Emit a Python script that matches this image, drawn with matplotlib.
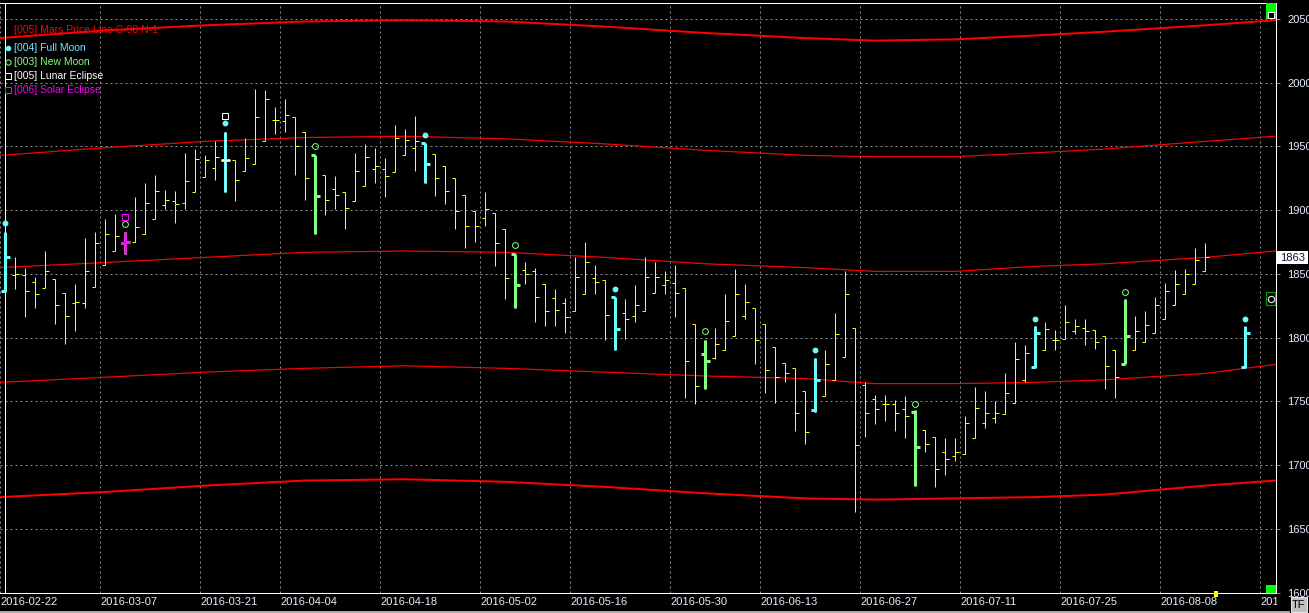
import matplotlib
matplotlib.use("Agg")
import matplotlib.pyplot as plt
import numpy as np
from matplotlib.patches import Rectangle
from matplotlib.lines import Line2D
from matplotlib.transforms import Bbox, blended_transform_factory

plt.rcParams['font.family'] = ['Liberation Sans', 'DejaVu Sans']

# =========================================================
# DATA (daily OHLC, bar index 0 = 2016-02-22)
# =========================================================

opens = [1837, 1849, 1849, 1844, 1839, 1846, 1835, 1827, 1827, 1840,
         1857, 1868, 1874, 1875, 1881, 1893, 1904, 1907, 1906, 1914,
         1926, 1933, 1939, 1939, 1931, 1936, 1954, 1971, 1970, 1973,
         1961, 1943, 1928, 1917, 1914, 1907, 1919, 1932, 1932, 1930,
         1943, 1949, 1953, 1944, 1935, 1925, 1912, 1899, 1894, 1898,
         1885, 1866, 1853, 1852, 1842, 1831, 1827, 1821, 1834, 1847,
         1845, 1832, 1819, 1817, 1821, 1835, 1841, 1843, 1839, 1811,
         1787, 1784, 1790, 1801, 1817, 1823, 1811, 1793, 1780, 1776,
         1758, 1743, 1754, 1767, 1785, 1808, 1763, 1752, 1748, 1748,
         1744, 1742, 1728, 1722, 1710, 1707, 1709, 1721, 1733, 1737,
         1740, 1749, 1767, 1777, 1790, 1798, 1799, 1805, 1808, 1806,
         1801, 1790, 1779, 1790, 1797, 1804, 1815, 1826, 1834, 1842,
         1852]

highs = [1883, 1863, 1855, 1848, 1868, 1846, 1835, 1842, 1878, 1883,
         1893, 1897, 1883, 1910, 1921, 1928, 1916, 1915, 1945, 1948,
         1943, 1954, 1961, 1939, 1957, 1995, 1994, 1981, 1987, 1973,
         1961, 1943, 1928, 1927, 1914, 1945, 1952, 1949, 1941, 1967,
         1964, 1974, 1953, 1944, 1935, 1925, 1912, 1899, 1914, 1898,
         1885, 1866, 1859, 1855, 1842, 1838, 1831, 1863, 1875, 1857,
         1845, 1832, 1830, 1841, 1863, 1859, 1852, 1857, 1839, 1811,
         1798, 1808, 1834, 1854, 1842, 1823, 1811, 1793, 1780, 1776,
         1758, 1784, 1790, 1819, 1852, 1808, 1765, 1755, 1755, 1751,
         1754, 1743, 1728, 1722, 1721, 1721, 1739, 1761, 1758, 1750,
         1772, 1797, 1794, 1809, 1812, 1806, 1826, 1815, 1815, 1806,
         1801, 1790, 1830, 1817, 1821, 1832, 1843, 1853, 1854, 1870,
         1874]

lows = [1836, 1838, 1816, 1823, 1839, 1811, 1795, 1805, 1823, 1840,
        1857, 1868, 1866, 1875, 1881, 1893, 1901, 1890, 1901, 1914,
        1926, 1924, 1914, 1907, 1931, 1936, 1954, 1960, 1961, 1928,
        1908, 1881, 1896, 1901, 1885, 1907, 1919, 1921, 1910, 1930,
        1943, 1931, 1921, 1911, 1905, 1885, 1870, 1875, 1888, 1856,
        1830, 1823, 1842, 1812, 1809, 1809, 1804, 1821, 1834, 1834,
        1798, 1790, 1799, 1812, 1821, 1835, 1834, 1816, 1753, 1748,
        1760, 1783, 1790, 1801, 1815, 1779, 1757, 1749, 1765, 1727,
        1717, 1742, 1754, 1767, 1785, 1663, 1722, 1732, 1735, 1727,
        1721, 1684, 1710, 1683, 1692, 1703, 1709, 1721, 1729, 1733,
        1740, 1749, 1765, 1776, 1790, 1790, 1799, 1803, 1794, 1791,
        1760, 1753, 1779, 1790, 1797, 1804, 1815, 1826, 1834, 1842,
        1852]

closes = [1863, 1850, 1837, 1834, 1852, 1826, 1817, 1828, 1852, 1874,
          1881, 1880, 1875, 1887, 1906, 1915, 1908, 1905, 1923, 1940,
          1939, 1942, 1939, 1924, 1941, 1973, 1987, 1971, 1975, 1950,
          1925, 1911, 1908, 1912, 1902, 1931, 1942, 1935, 1927, 1957,
          1955, 1954, 1936, 1925, 1915, 1899, 1888, 1888, 1901, 1874,
          1847, 1841, 1850, 1832, 1821, 1822, 1816, 1848, 1859, 1844,
          1818, 1807, 1815, 1826, 1848, 1848, 1845, 1835, 1782, 1762,
          1782, 1795, 1813, 1834, 1828, 1798, 1775, 1769, 1772, 1741,
          1726, 1767, 1779, 1803, 1834, 1716, 1741, 1744, 1748, 1741,
          1739, 1714, 1717, 1697, 1705, 1710, 1733, 1745, 1741, 1741,
          1757, 1783, 1788, 1804, 1807, 1798, 1812, 1809, 1805, 1797,
          1778, 1769, 1801, 1805, 1810, 1826, 1837, 1842, 1850, 1861,
          1863]

# projected full-moon bar (2016-08-18, beyond the last price bar)
future_idx = 124
future_ohlc = (1777, 1809, 1776, 1804)

full_moon_idx = [0, 22, 42, 61, 81, 103, 124]
full_moon_mark = [1890, 1968, 1959, 1838, 1790, 1815, 1815]
new_moon_idx = [12, 31, 51, 70, 91, 112]
new_moon_mark = [1889, 1950, 1873, 1805, 1748, 1836]
lunar_ecl_idx = [22]
lunar_ecl_mark = [1974]
solar_ecl_idx = [12]
solar_ecl_mark = [1895]

# Mars price lines (C-90 N-1), sampled along the bar index axis
mars_x = [-0.5, 10, 20, 30, 40, 50, 60, 70, 80, 87, 95, 103, 110, 120, 127]
mars_a = [2035, 2041, 2045, 2048, 2049, 2048, 2044, 2039, 2035, 2033, 2034, 2037, 2040, 2045, 2049]
mars_b = [1943, 1949, 1954, 1957, 1958, 1956, 1952, 1947, 1943, 1942, 1942, 1945, 1948, 1954, 1958]
mars_c = [1855, 1859, 1863, 1867, 1868, 1867, 1863, 1858, 1855, 1852, 1852, 1856, 1858, 1863, 1868]
mars_d = [1765, 1769, 1773, 1776, 1778, 1776, 1773, 1770, 1768, 1764, 1764, 1765, 1767, 1772, 1779]
mars_e = [1675, 1679, 1684, 1688, 1689, 1687, 1683, 1678, 1674, 1673, 1674, 1675, 1677, 1684, 1688]

tick_idx = [0, 10, 20, 28, 38, 48, 57, 67, 76, 86, 96, 106, 116, 126]
tick_dates = ['2016-02-22', '2016-03-07', '2016-03-21', '2016-04-04', '2016-04-18',
              '2016-05-02', '2016-05-16', '2016-05-30', '2016-06-13', '2016-06-27',
              '2016-07-11', '2016-07-25', '2016-08-08', '2016-08-22']
price_levels = [1600, 1650, 1700, 1750, 1800, 1850, 1900, 1950, 2000, 2050]
last_price = 1863

# =========================================================
# STYLE
# =========================================================

W, H = 1309, 613
PX = 0.72            # one pixel in points at 100 dpi
YELLOW = '#ffff00'
CYAN = '#66ffff'
GREEN = '#80ff80'
MAGENTA = '#ff00ff'
RED = '#ff0000'
GRID = '#8c8c8c'
LABEL = '#e4eeff'

fig = plt.figure(figsize=(W / 100, H / 100), dpi=100, facecolor='black')
ax = fig.add_axes([0, 20 / H, 1275.5 / W, 590 / H], facecolor='black')


def fx(px):
    return px / W


def fy(py):
    return 1 - py / H


# grid
for lvl in price_levels:
    ax.axhline(lvl, color=GRID, lw=PX, linestyle=(0, (2, 3)), zorder=0)
for t in tick_idx:
    ax.axvline(t - 0.5, color=GRID, lw=PX, linestyle=(0, (2, 3)), zorder=0)

# Mars price lines
ax.plot(mars_x, mars_a, color=RED, lw=2 * PX, zorder=2)
ax.plot(mars_x, mars_b, color=RED, lw=1.2 * PX, zorder=2)
ax.plot(mars_x, mars_c, color=RED, lw=1.2 * PX, zorder=2)
ax.plot(mars_x, mars_d, color=RED, lw=1.2 * PX, zorder=2)
ax.plot(mars_x, mars_e, color=RED, lw=2 * PX, zorder=2)

# OHLC bars
x = np.arange(len(opens))
ax.vlines(x, lows, highs, color=YELLOW, lw=PX, zorder=3)
ax.hlines(opens, x - 0.35, x, color=YELLOW, lw=PX, zorder=3)
ax.hlines(closes, x, x + 0.35, color=YELLOW, lw=PX, zorder=3)


def ohlc_at(i):
    if i < len(opens):
        return opens[i], highs[i], lows[i], closes[i]
    return future_ohlc


def moon_bar(i, color, lw, z):
    o, h, l, c = ohlc_at(i)
    ax.vlines(i, l, h, color=color, lw=lw, zorder=z)
    ax.hlines(o, i - 0.45, i, color=color, lw=lw, zorder=z)
    ax.hlines(c, i, i + 0.45, color=color, lw=lw, zorder=z)


for i in full_moon_idx:
    moon_bar(i, CYAN, 3 * PX, 4)
for i in new_moon_idx:
    moon_bar(i, GREEN, 3 * PX, 4)
for i in lunar_ecl_idx:
    moon_bar(i, 'white', PX, 5)
for i in solar_ecl_idx:
    moon_bar(i, MAGENTA, 2.6 * PX, 5)

# moon markers
ax.plot(full_moon_idx, full_moon_mark, 'o', ms=3.2, color=CYAN, mec=CYAN, zorder=6)
ax.plot(new_moon_idx, new_moon_mark, 'o', ms=4.2, mfc='none', mec=GREEN, mew=PX, zorder=6)
ax.plot(lunar_ecl_idx, lunar_ecl_mark, 's', ms=4.2, mfc='none', mec='white', mew=PX, zorder=6)
ax.plot(solar_ecl_idx, solar_ecl_mark, 's', ms=4.2, mfc='none', mec=MAGENTA, mew=PX, zorder=6)

ax.set_xlim(-0.5, 127.05)
ax.set_ylim(1599.8, 2062.5)

# axes, ticks
for side in ['top', 'right', 'bottom', 'left']:
    ax.spines[side].set_color('white')
    ax.spines[side].set_linewidth(PX)
ax.spines['left'].set_position(('data', -0.05))

ax.yaxis.tick_right()
ax.set_yticks(price_levels, labels=[str(v) for v in price_levels])
ax.tick_params(axis='y', colors=GRID, length=3, width=PX, pad=5.4,
               labelsize=8, labelcolor=LABEL)
ax.set_xticks(np.array(tick_idx) - 0.5, labels=tick_dates)
ax.tick_params(axis='x', length=0, pad=3, labelsize=8, labelcolor=LABEL)
for lbl in ax.get_xticklabels():
    lbl.set_horizontalalignment('left')
last_lbl = ax.get_xticklabels()[-1]
last_lbl.set_clip_box(Bbox.from_extents(0, 0, 1277, H))
last_lbl.set_clip_on(True)

# last price tag
blend = blended_transform_factory(ax.transAxes, ax.transData)
ax.add_patch(Rectangle((1.0012, last_price - 5.2), 0.0243, 10.3, transform=blend,
                       facecolor='white', edgecolor='none', clip_on=False, zorder=7))
ax.text(1.0135, last_price - 0.6, str(last_price), transform=blend, ha='center', va='center',
        fontsize=8, color='#101030', clip_on=False, zorder=8)

# legend
legend_rows = [
    ('[005] Mars Price Line C-90 N-1', RED, None, 30),
    ('[004] Full Moon', '#70e8ff', ('o', CYAN, CYAN), 48),
    ('[003] New Moon', GREEN, ('o', 'none', GREEN), 62),
    ('[005] Lunar Eclipse', 'white', ('s', 'none', 'white'), 76),
    ('[006] Solar Eclipse', MAGENTA, ('s', 'none', MAGENTA), 90),
]
for text, col, mk, py in legend_rows:
    fig.text(fx(14), fy(py), text, color=col, fontsize=7.5, ha='left', va='center', zorder=9)
    if mk is not None:
        m, mfc, mec = mk
        fig.add_artist(Line2D([fx(8)], [fy(py)], marker=m, ms=3.3 if mfc != 'none' else 3.8,
                              mfc=mfc, mec=mec, mew=PX, transform=fig.transFigure))

# small terminal widgets
fig.add_artist(Rectangle((fx(1266), fy(19)), 10 / W, 16 / H, transform=fig.transFigure,
                         facecolor='#00ff00', edgecolor='none'))
fig.add_artist(Rectangle((fx(1268), fy(18)), 6 / W, 6 / H, transform=fig.transFigure,
                         facecolor='black', edgecolor='white', lw=PX))
fig.add_artist(Rectangle((fx(1266), fy(305)), 9 / W, 13 / H, transform=fig.transFigure,
                         facecolor='black', edgecolor='#00a000', lw=1.2 * PX))
fig.add_artist(Line2D([fx(1270.5)], [fy(298.5)], marker='o', ms=4.5, mfc='black', mec='white',
                      mew=PX, transform=fig.transFigure))
fig.add_artist(Rectangle((fx(1266), fy(593)), 10 / W, 8 / H, transform=fig.transFigure,
                         facecolor='#00ff00', edgecolor='none'))
fig.add_artist(Rectangle((fx(1214), fy(597)), 4 / W, 6 / H, transform=fig.transFigure,
                         facecolor=YELLOW, edgecolor='none'))
fig.add_artist(Rectangle((0, 0), 1290 / W, 2.5 / H, transform=fig.transFigure,
                         facecolor='#a8a8a8', edgecolor='none'))
fig.add_artist(Rectangle((fx(1291), fy(612)), 16 / W, 15 / H, transform=fig.transFigure,
                         facecolor='#c0c0c0', edgecolor='#e8e8e8', lw=PX))
fig.text(fx(1299), fy(604.5), 'TF', color='black', fontsize=8, ha='center', va='center')

fig.savefig('out.png', dpi=100, facecolor='black')
